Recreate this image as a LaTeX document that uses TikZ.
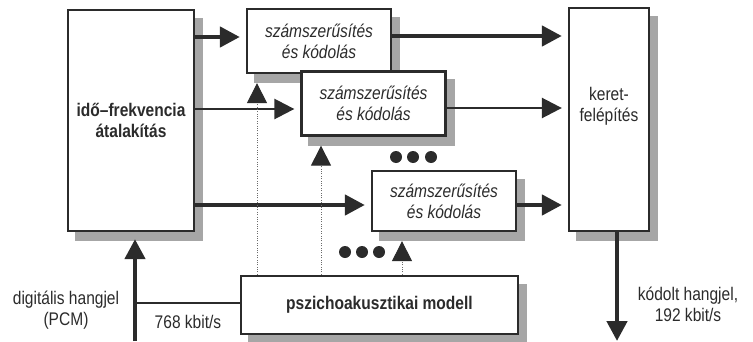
\documentclass[tikz,border=0pt]{standalone}
\usepackage{fontspec}
\setmainfont{Liberation Sans}[FakeStretch=0.85]
\usetikzlibrary{positioning, calc, backgrounds, arrows.meta}
\definecolor{ink}{HTML}{2B2B2B}
\definecolor{shadowgray}{HTML}{A6A6A6}

\begin{document}
\begin{tikzpicture}[
    x=0.025cm, y=-0.025cm,
    font=\fontsize{13}{15}\selectfont,
    every node/.style={text=ink},
    block/.style={draw=ink, line width=1.6pt, fill=white, align=center, inner sep=2pt},
    quant/.style={block, minimum width=3.6cm, minimum height=1.6cm, font=\fontsize{13}{15}\selectfont\itshape},
    flow/.style={-{Triangle[length=0.5cm, width=0.5cm]}, draw=ink, line width=3.2pt, shorten >=0.15cm},
    thinflow/.style={flow, line width=1.8pt},
    ctrl/.style={-{Triangle[length=0.5cm, width=0.5cm, color=ink]}, draw=ink!70, line width=0.7pt, densely dotted, shorten >=0.225cm}
]
\useasboundingbox (0,0) rectangle (753,341);

\node[block, minimum width=3.15cm, minimum height=5.525cm, font=\fontsize{13}{15}\selectfont\bfseries] (TF) at (131,120.5) {idő–frekvencia\\átalakítás};
\node[quant] (Q1) at (319,41) {számszerűsítés\\és kódolás};
\node[quant] (Q2) at (373.5,103.5) {számszerűsítés\\és kódolás};
\node[quant, minimum height=1.5cm] (Q3) at (444,201) {számszerűsítés\\és kódolás};
\node[block, minimum width=6.925cm, minimum height=1.45cm, font=\fontsize{13}{15}\selectfont\bfseries] (PM) at (379.5,305) {pszichoakusztikai modell};
\node[block, minimum width=2cm, minimum height=5.575cm] (FR) at (609,119.5) {};
\node[align=center] (FRtext) at ([yshift=0.33cm]FR.center) {keret-\\felépítés};

\node[align=center] (pcm) at (66,310) {digitális hangjel\\(PCM)};
\node (rate) at (188,322) {768 kbit/s};
\node[align=center] (coded) at (688,304) {kódolt hangjel,\\192 kbit/s};

\coordinate (in) at (135,341);
\coordinate (out) at (617,341);

% bemenet
\draw[flow, shorten >=0.175cm] (in) -- (in |- TF.south);
\draw[ink, line width=1.8pt] (in |- 0,303) -- (PM.west |- 0,303);

\draw[flow] (TF.east |- 0,37) -- (Q1.west |- 0,37);
\draw[thinflow] (TF.east |- 0,109) -- (Q2.west |- 0,109);
\draw[flow] (TF.east |- 0,205) -- (Q3.west |- 0,205);
\draw[flow] (Q1.east |- 0,36) -- (FR.west |- 0,36);
\draw[thinflow] (Q2.east |- 0,108) -- (FR.west |- 0,108);
\draw[flow] (Q3.east |- 0,205) -- (FR.west |- 0,205);

% kimenet
\draw[flow, shorten >=0pt] (FR.south -| out) -- (out);

\draw[ctrl] (PM.north -| 257,0) -- (Q1.south -| 257,0);
\draw[ctrl] (PM.north -| 321,0) -- (Q2.south -| 321,0);
\draw[ctrl] (PM.north -| 402,0) -- (Q3.south -| 402,0);

\foreach \x in {396,413,431} \fill[ink] (\x,157) circle (0.15cm);
\foreach \x in {345,362,379} \fill[ink] (\x,252) circle (0.15cm);

% árnyékok
\begin{scope}[on background layer]
    \foreach \n in {TF,Q1,Q2,Q3,PM,FR}
        \fill[shadowgray] ([xshift=0.2cm, yshift=-0.225cm]\n.south west) rectangle ([xshift=0.2cm, yshift=-0.225cm]\n.north east);
\end{scope}

\end{tikzpicture}
\end{document}
